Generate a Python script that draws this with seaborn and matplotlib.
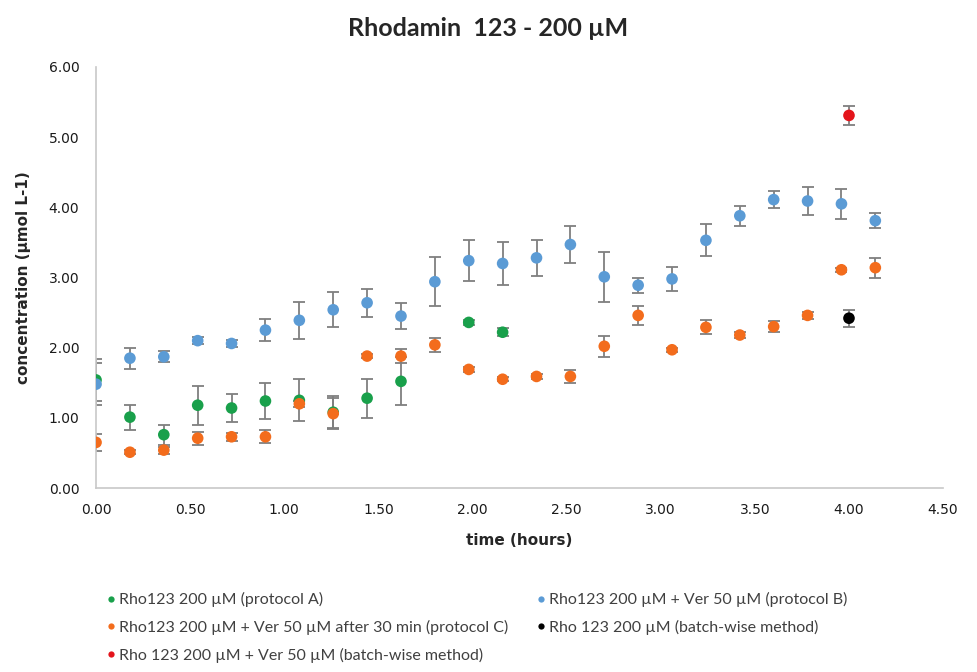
import matplotlib
matplotlib.use("Agg")
import matplotlib.pyplot as plt
import matplotlib.ticker as mticker
import seaborn as sns
import pandas as pd

# time points (hours)
t_main = [0.00, 0.18, 0.36, 0.54, 0.72, 0.90, 1.08, 1.26, 1.44, 1.62, 1.80, 1.98,
          2.16, 2.34, 2.52, 2.70, 2.88, 3.06, 3.24, 3.42, 3.60, 3.78, 3.96, 4.14]
t_a = [0.00, 0.18, 0.36, 0.54, 0.72, 0.90, 1.08, 1.26, 1.44, 1.62, 1.98, 2.16]
t_batch = [4.00]

# protocol A
a_val = [1.54, 1.01, 0.76, 1.18, 1.14, 1.24, 1.25, 1.08, 1.28, 1.52, 2.36, 2.22]
a_err = [0.30, 0.18, 0.14, 0.28, 0.20, 0.25, 0.30, 0.23, 0.28, 0.34, 0.03, 0.06]

# protocol B
b_val = [1.48, 1.85, 1.87, 2.10, 2.06, 2.25, 2.39, 2.54, 2.64, 2.45, 2.94, 3.24,
         3.20, 3.28, 3.47, 3.01, 2.89, 2.98, 3.53, 3.88, 4.11, 4.09, 4.05, 3.81]
b_err = [0.30, 0.15, 0.08, 0.05, 0.05, 0.16, 0.26, 0.25, 0.20, 0.18, 0.35, 0.29,
         0.30, 0.26, 0.27, 0.36, 0.11, 0.17, 0.23, 0.14, 0.12, 0.20, 0.21, 0.11]

# protocol C
c_val = [0.65, 0.51, 0.54, 0.71, 0.73, 0.73, 1.20, 1.06, 1.88, 1.88, 2.04, 1.69,
         1.55, 1.59, 1.59, 2.02, 2.46, 1.97, 2.29, 2.18, 2.30, 2.46, 3.11, 3.14]
c_err = [0.12, 0.03, 0.05, 0.09, 0.06, 0.09, 0.04, 0.22, 0.03, 0.10, 0.10, 0.03,
         0.03, 0.03, 0.09, 0.15, 0.14, 0.03, 0.10, 0.04, 0.08, 0.05, 0.03, 0.14]

# batch-wise
black_val = [2.42]
black_err = [0.12]
red_val = [5.31]
red_err = [0.13]

labels = [
    "Rho123 200 µM (protocol A)",
    "Rho123 200 µM + Ver 50 µM (protocol B)",
    "Rho123 200 µM + Ver 50 µM after 30 min (protocol C)",
    "Rho 123 200 µM (batch-wise method)",
    "Rho 123 200 µM + Ver 50 µM (batch-wise method)",
]
colors = ["#19A04B", "#5B9BD5", "#F36C1C", "#000000", "#E4141B"]

frames = []
for lab, t, v, e in zip(labels,
                        [t_a, t_main, t_main, t_batch, t_batch],
                        [a_val, b_val, c_val, black_val, red_val],
                        [a_err, b_err, c_err, black_err, red_err]):
    frames.append(pd.DataFrame({"time": t, "conc": v, "err": e, "series": lab}))
df = pd.concat(frames, ignore_index=True)

sns.set_style("white")
plt.rcParams["font.family"] = ["Lato", "DejaVu Sans"]

fig = plt.figure(figsize=(9.77, 6.72), dpi=100)
ax = fig.add_axes([0.0983, 0.2738, 0.867, 0.6265])

for lab in labels:
    sub = df[df["series"] == lab]
    ax.errorbar(sub["time"], sub["conc"], yerr=sub["err"], fmt="none",
                ecolor="#7F7F7F", elinewidth=1.3, capsize=4, capthick=1.3, zorder=2)

sns.scatterplot(data=df, x="time", y="conc", hue="series", hue_order=labels,
                palette=colors, s=70, edgecolor="none", ax=ax, zorder=3, legend=False)

ax.set_xlim(0, 4.5)
ax.set_ylim(0, 6)
ax.set_xticks([0, 0.5, 1, 1.5, 2, 2.5, 3, 3.5, 4, 4.5])
ax.set_yticks([0, 1, 2, 3, 4, 5, 6])
ax.xaxis.set_major_formatter(mticker.FormatStrFormatter("%.2f"))
ax.yaxis.set_major_formatter(mticker.FormatStrFormatter("%.2f"))
ax.tick_params(axis="both", labelsize=10, colors="#1A1A1A", length=0)
ax.tick_params(axis="y", pad=12)
ax.tick_params(axis="x", pad=11)
for lbl in ax.get_xticklabels() + ax.get_yticklabels():
    lbl.set_family("DejaVu Sans")
for s in ["top", "right"]:
    ax.spines[s].set_visible(False)
ax.spines["left"].set_color("#C8C8C8")
ax.spines["bottom"].set_color("#C8C8C8")
ax.spines["left"].set_linewidth(1.2)
ax.spines["bottom"].set_linewidth(1.2)

ax.set_xlabel("time (hours)", fontsize=11, fontweight="bold", labelpad=11,
              family="DejaVu Sans")
ax.set_ylabel("concentration (µmol L-1)", fontsize=11, fontweight="bold", labelpad=13,
              family="DejaVu Sans")
fig.suptitle("Rhodamin  123 - 200 µM", fontsize=18, fontweight="bold", y=0.975)

handles = [plt.Line2D([], [], marker="o", linestyle="none", markersize=4.5,
                      markerfacecolor=c, markeredgecolor="none") for c in colors]
order = [0, 2, 4, 1, 3]
leg = fig.legend([handles[i] for i in order], [labels[i] for i in order],
                 loc="upper left", bbox_to_anchor=(0.1085, 0.119), ncol=2,
                 frameon=False, fontsize=11.5, handlelength=0.6, handletextpad=0.2,
                 columnspacing=1.75, labelspacing=0.8, borderaxespad=0, borderpad=0)
for txt in leg.get_texts():
    txt.set_color("#404040")

fig.savefig("out.png", dpi=100)
